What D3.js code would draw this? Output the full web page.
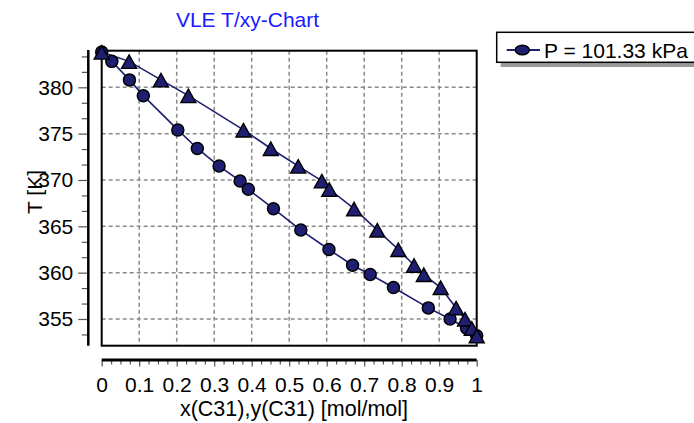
<!DOCTYPE html>
<html>
<head>
<meta charset="UTF-8">
<title>VLE T/xy-Chart</title>
<script src="https://d3js.org/d3.v7.min.js"></script>
<style>
  body { margin: 0; background: #fff; }
  svg { display: block; font-family: "Liberation Sans", Arial, sans-serif; }
  .grid line { stroke: #8a8a8a; stroke-width: 1.5; stroke-dasharray: 4 3; }
</style>
</head>
<body>
<script>
  // liquid (x) and vapour (y) mole fractions of C31 against temperature
  const T    = [383.8, 382.8, 380.8, 379.1, 375.4, 373.4, 371.5, 369.9, 369.0, 366.9, 364.6, 362.5, 360.8, 359.8, 358.4, 356.2, 355.0, 354.0, 353.2];
  const xLiq = [0.0, 0.027, 0.074, 0.111, 0.203, 0.255, 0.313, 0.369, 0.391, 0.458, 0.531, 0.606, 0.669, 0.716, 0.778, 0.871, 0.929, 0.973, 1.0];
  const yVap = [0.0, 0.073, 0.158, 0.231, 0.378, 0.451, 0.524, 0.587, 0.607, 0.673, 0.735, 0.791, 0.833, 0.859, 0.904, 0.945, 0.969, 0.987, 1.0];

  const xTicks = [0, 0.1, 0.2, 0.3, 0.4, 0.5, 0.6, 0.7, 0.8, 0.9, 1];
  const xTickLabels = ["0", "0.1", "0.2", "0.3", "0.4", "0.5", "0.6", "0.7", "0.8", "0.9", "1"];
  const yTicks = [355, 360, 365, 370, 375, 380];
  const legendLabel = "P = 101.33 kPa";

  const width = 694, height = 423;
  const pLeft = 101.7, pRight = 476.7, pTop = 50.7, pBottom = 345.7;
  const navy = "#1f1f72";
  const fs = 21;

  const svg = d3.select("body").append("svg")
    .attr("width", width)
    .attr("height", height);

  const x = d3.scaleLinear().domain([0, 1]).range([pLeft, pRight]);
  const y = d3.scaleLinear().domain([352.12, 383.95]).range([pBottom, pTop]);

  // grid
  const grid = svg.append("g").attr("class", "grid");
  grid.selectAll(".gx").data(xTicks.slice(1, -1)).enter().append("line")
    .attr("x1", d => x(d)).attr("x2", d => x(d))
    .attr("y1", pTop).attr("y2", pBottom);
  grid.selectAll(".gy").data(yTicks).enter().append("line")
    .attr("x1", pLeft).attr("x2", pRight)
    .attr("y1", d => y(d)).attr("y2", d => y(d));

  // plot frame
  svg.append("rect")
    .attr("x", pLeft).attr("y", pTop)
    .attr("width", pRight - pLeft).attr("height", pBottom - pTop)
    .attr("fill", "none").attr("stroke", "#000").attr("stroke-width", 2);

  // detached y axis
  const yAxisX = 88.3;
  const yMinor = [];
  for (let v = 380 + 10 / 3; v > 352.12; v -= 5 / 3) {
    if (Math.abs(v - Math.round(v / 5) * 5) > 0.1) yMinor.push(v);
  }
  const gyMinor = svg.append("g").attr("transform", `translate(${yAxisX},0)`)
    .call(d3.axisLeft(y).tickValues(yMinor).tickSize(6.5).tickFormat(""));
  const gyMajor = svg.append("g").attr("transform", `translate(${yAxisX},0)`)
    .call(d3.axisLeft(y).tickValues(yTicks).tickSize(10).tickPadding(5));
  [gyMinor, gyMajor].forEach(g => {
    g.select(".domain").remove();
    g.selectAll(".tick line").attr("stroke", "#555").attr("stroke-width", 1.2);
  });
  gyMajor.selectAll("text").attr("font-size", fs).attr("fill", "#000")
    .attr("font-family", "Liberation Sans, Arial, sans-serif");
  svg.append("line")
    .attr("x1", yAxisX).attr("x2", yAxisX).attr("y1", 50).attr("y2", pBottom)
    .attr("stroke", "#000").attr("stroke-width", 2.5);

  // detached x axis
  const xAxisY = 360;
  const xMinor = d3.range(0, 41).map(i => i / 40)
    .filter(v => Math.abs(v * 10 - Math.round(v * 10)) > 0.01);
  const gxMinor = svg.append("g").attr("transform", `translate(0,${xAxisY})`)
    .call(d3.axisBottom(x).tickValues(xMinor).tickSize(4.5).tickFormat(""));
  const gxMajor = svg.append("g").attr("transform", `translate(0,${xAxisY})`)
    .call(d3.axisBottom(x).tickValues(xTicks).tickSize(6.5)
      .tickPadding(11).tickFormat((d, i) => xTickLabels[i]));
  [gxMinor, gxMajor].forEach(g => {
    g.select(".domain").remove();
    g.selectAll(".tick line").attr("stroke", "#555").attr("stroke-width", 1.2);
  });
  gxMajor.selectAll("text").attr("font-size", fs).attr("fill", "#000")
    .attr("font-family", "Liberation Sans, Arial, sans-serif");
  svg.append("line")
    .attr("x1", pLeft).attr("x2", pRight).attr("y1", xAxisY).attr("y2", xAxisY)
    .attr("stroke", "#000").attr("stroke-width", 3);

  // curves
  const liq = T.map((t, i) => [xLiq[i], t]);
  const vap = T.map((t, i) => [yVap[i], t]);
  const line = d3.line().x(d => x(d[0])).y(d => y(d[1]));
  [liq, vap].forEach(pts => {
    svg.append("path").attr("d", line(pts))
      .attr("fill", "none").attr("stroke", navy).attr("stroke-width", 1.6);
  });

  svg.selectAll(".liq").data(liq).enter().append("circle")
    .attr("cx", d => x(d[0])).attr("cy", d => y(d[1])).attr("r", 6)
    .attr("fill", navy).attr("stroke", "#000").attr("stroke-width", 1.5);

  const tri = "M0,-7.5L7.5,6L-7.5,6Z";
  svg.selectAll(".vap").data(vap).enter().append("path")
    .attr("d", tri)
    .attr("transform", d => `translate(${x(d[0])},${y(d[1]) + 1})`)
    .attr("fill", navy).attr("stroke", "#000").attr("stroke-width", 1.4);

  // titles
  svg.append("text").attr("x", 247.5).attr("y", 26.7)
    .attr("text-anchor", "middle").attr("font-size", fs).attr("fill", "#1a1aff")
    .text("VLE T/xy-Chart");
  svg.append("text").attr("x", 294).attr("y", 416)
    .attr("text-anchor", "middle").attr("font-size", 21.5).attr("fill", "#000")
    .text("x(C31),y(C31) [mol/mol]");
  svg.append("text")
    .attr("transform", "translate(42,192) rotate(-90)")
    .attr("text-anchor", "middle").attr("font-size", fs).attr("fill", "#000")
    .text("T [K]");

  // legend
  svg.append("rect").attr("x", 500.7).attr("y", 36.3).attr("width", 220).attr("height", 30.7)
    .attr("fill", "#9a9a9a");
  svg.append("rect").attr("x", 496.7).attr("y", 32.3).attr("width", 220).attr("height", 30)
    .attr("fill", "#fff").attr("stroke", "#000").attr("stroke-width", 1.5);
  svg.append("line").attr("x1", 506.7).attr("x2", 540).attr("y1", 50).attr("y2", 50)
    .attr("stroke", navy).attr("stroke-width", 2);
  svg.append("ellipse").attr("cx", 522.3).attr("cy", 50).attr("rx", 7).attr("ry", 4.8)
    .attr("fill", navy).attr("stroke", "#000").attr("stroke-width", 1.5);
  svg.append("text").attr("x", 544).attr("y", 58)
    .attr("font-size", fs).attr("fill", "#000")
    .text(legendLabel);
</script>
</body>
</html>
